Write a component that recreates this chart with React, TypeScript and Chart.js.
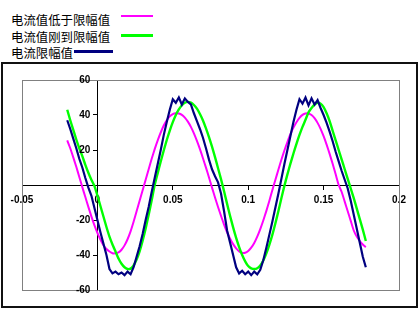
import React, { useEffect, useRef } from 'react';
import { Chart, registerables } from 'chart.js';

Chart.register(...registerables);

const seriesNames = ['电流值低于限幅值', '电流值刚到限幅值', '电流限幅值'];
const seriesColors = ['#ff00ff', '#00ff00', '#000080'];

const xTicks = [-0.05, 0, 0.05, 0.1, 0.15, 0.2];
const yTicks = [-60, -40, -20, 0, 20, 40, 60];

const times = [
  -0.020, -0.018, -0.016, -0.014, -0.012, -0.010, -0.008, -0.006, -0.004, -0.002,
  0.000, 0.002, 0.004, 0.006, 0.008, 0.010, 0.012, 0.014, 0.016, 0.018,
  0.020, 0.022, 0.024, 0.026, 0.028, 0.030, 0.032, 0.034, 0.036, 0.038,
  0.040, 0.042, 0.044, 0.046, 0.048, 0.050, 0.052, 0.054, 0.056, 0.058,
  0.060, 0.062, 0.064, 0.066, 0.068, 0.070, 0.072, 0.074, 0.076, 0.078,
  0.080, 0.082, 0.084, 0.086, 0.088, 0.090, 0.092, 0.094, 0.096, 0.098,
  0.100, 0.102, 0.104, 0.106, 0.108, 0.110, 0.112, 0.114, 0.116, 0.118,
  0.120, 0.122, 0.124, 0.126, 0.128, 0.130, 0.132, 0.134, 0.136, 0.138,
  0.140, 0.142, 0.144, 0.146, 0.148, 0.150, 0.152, 0.154, 0.156, 0.158,
  0.160, 0.162, 0.164, 0.166, 0.168, 0.170, 0.172, 0.174, 0.176, 0.178,
];

const belowLimit = [
  25.5, 21, 15.8, 10.4, 4.6, -1.2, -6.9, -12.5, -17.9, -22.9,
  -27.3, -31.2, -34.4, -36.6, -38, -39, -39, -38.5, -37, -34.5,
  -31, -26.5, -21, -15, -9, -3, 3, 9, 15, 20.5,
  25.5, 30, 34, 37, 39.2, 40.5, 41, 40.9, 40.1, 38.5,
  36.2, 33.2, 29.5, 25.2, 20.5, 15.3, 9.9, 4.3, -1.5, -7.1,
  -12.6, -17.7, -22.6, -27, -30.7, -33.8, -36.2, -37.9, -38.7, -38.7,
  -37.7, -35.8, -33.1, -29.5, -25.2, -20.3, -14.9, -9.1, -3, 2.9,
  8.7, 14.4, 19.7, 24.5, 29, 32.8, 35.9, 38.4, 40.1, 40.9,
  40.9, 40, 38.2, 35.5, 32.1, 27.9, 23.1, 17.8, 12.1, 6.1,
  0, -4, -9.5, -15, -20.5, -26, -29.5, -32, -34, -35.5,
];

const atLimit = [
  43, 37, 31.5, 26, 21, 16.5, 11.5, 7, 3, -0.5,
  -6, -12, -18, -24, -29.5, -34, -38, -42, -45, -47,
  -48, -47.8, -46, -42.6, -37.9, -31.8, -24.8, -17, -8.7, 0,
  6.8, 13.4, 19.7, 25.7, 31.1, 35.9, 40, 43.2, 45.6, 47,
  47.5, 47.1, 45.7, 43.6, 40.6, 36.9, 32.4, 27.4, 21.9, 15.9,
  9.6, 3.2, -3.6, -10.8, -17.7, -24.2, -30.2, -35.5, -40, -43.6,
  -46.3, -47.6, -48, -47.6, -46, -43.1, -39.2, -34.2, -28.5, -22,
  -15, -7.6, -0.5, 6.1, 12.2, 18, 23.5, 28.6, 33.2, 37.3,
  41.5, 44, 46, 47, 46.5, 44.5, 41, 36.5, 31, 25.5,
  20, 14.5, 9, 3.5, -2, -7.5, -13.5, -19.5, -25.5, -32,
];

const limited = [
  37, 32, 26.5, 21, 15, 10, 4, -1.5, -6, -13,
  -20, -27, -33.5, -40, -48, -50.5, -49.5, -51, -50, -51.5,
  -49.5, -51, -47, -41, -35, -28, -20, -12.5, -4, 4,
  12, 20, 28.5, 36, 43, 49, 47, 50, 46, 49.5,
  47.5, 46, 41, 36.5, 32, 27, 21, 14.5, 9, 5,
  1.5, -5, -15, -26, -33, -40, -47, -50.5, -49, -51,
  -49.5, -51.5, -49.5, -51, -48.5, -43, -36, -28.5, -21, -13,
  -5, 3.5, 12, 20, 28, 36, 43, 49, 46.5, 50,
  45.5, 49.5, 46, 48.5, 44, 40, 35.5, 30.5, 25, 19,
  13.5, 8, 3, -2, -9, -17, -25, -33, -41, -47,
];

const tickFont = { family: 'Liberation Sans, Arial, sans-serif', size: 10, weight: 'bold' as const };

const plotBox = {
  id: 'plotBox',
  beforeDatasetsDraw(chart: any) {
    const { ctx, chartArea } = chart;
    ctx.save();
    ctx.strokeStyle = '#808080';
    ctx.lineWidth = 1;
    ctx.strokeRect(
      Math.round(chartArea.left) + 0.5,
      Math.round(chartArea.top) + 0.5,
      Math.round(chartArea.right - chartArea.left),
      Math.round(chartArea.bottom - chartArea.top)
    );
    ctx.restore();
  },
};

const yLabels = {
  id: 'yLabels',
  afterDraw(chart: any) {
    const { ctx } = chart;
    const xs = chart.scales.x;
    const ys = chart.scales.y;
    const ax = xs.getPixelForValue(0);
    ctx.save();
    ctx.fillStyle = '#000';
    ctx.font = 'bold 10px "Liberation Sans", Arial, sans-serif';
    ctx.textAlign = 'right';
    ctx.textBaseline = 'middle';
    yTicks.forEach((v) => {
      if (v === 0) return;
      ctx.fillText(String(v), ax - 7, ys.getPixelForValue(v));
    });
    ctx.restore();
  },
};

export default function App() {
  const ref = useRef<HTMLCanvasElement>(null);

  useEffect(() => {
    const toPts = (ys: number[]) => times.map((x, i) => ({ x, y: ys[i] }));
    const chart = new Chart(ref.current!, {
      type: 'line',
      data: {
        datasets: [
          {
            label: seriesNames[2],
            data: toPts(limited),
            borderColor: seriesColors[2],
            borderWidth: 2.2,
            pointRadius: 0,
            tension: 0,
            order: 0,
          },
          {
            label: seriesNames[1],
            data: toPts(atLimit),
            borderColor: seriesColors[1],
            borderWidth: 2.4,
            pointRadius: 0,
            tension: 0.2,
            order: 1,
          },
          {
            label: seriesNames[0],
            data: toPts(belowLimit),
            borderColor: seriesColors[0],
            borderWidth: 2,
            pointRadius: 0,
            tension: 0.2,
            order: 2,
          },
        ],
      },
      options: {
        animation: false,
        responsive: false,
        events: [],
        layout: { padding: { left: 19, top: 16, right: 17, bottom: 16 } },
        plugins: { legend: { display: false }, tooltip: { enabled: false } },
        scales: {
          x: {
            type: 'linear',
            min: -0.05,
            max: 0.2,
            position: { y: 0 } as any,
            afterBuildTicks: (s: any) => {
              s.ticks = xTicks.map((v) => ({ value: v }));
            },
            grid: { drawOnChartArea: false, drawTicks: true, tickLength: 4, color: '#000' },
            border: { color: '#000', width: 1 },
            ticks: {
              color: '#000',
              font: tickFont,
              padding: 5,
              maxRotation: 0,
              autoSkip: false,
              callback: (v: any) => String(Number(Number(v).toFixed(2))),
            },
          },
          y: {
            type: 'linear',
            min: -60,
            max: 60,
            position: { x: 0 } as any,
            afterBuildTicks: (s: any) => {
              s.ticks = yTicks.map((v) => ({ value: v }));
            },
            grid: { drawOnChartArea: false, drawTicks: true, tickLength: 4, color: '#000' },
            border: { color: '#000', width: 1 },
            ticks: { display: false },
          },
        },
      },
      plugins: [plotBox, yLabels],
    });
    return () => chart.destroy();
  }, []);

  const legendText: React.CSSProperties = {
    position: 'absolute',
    left: 11,
    fontFamily: '"Noto Sans CJK SC", sans-serif',
    fontSize: 12.4,
    lineHeight: '14px',
    color: '#000',
    whiteSpace: 'nowrap',
  };

  return (
    <div style={{ position: 'absolute', left: 0, top: 0, width: 420, height: 311, background: '#fff', overflow: 'hidden' }}>
      <div style={{ ...legendText, top: 13 }}>{seriesNames[0]}</div>
      <div style={{ position: 'absolute', left: 121, top: 15, width: 32, height: 2, background: seriesColors[0] }} />
      <div style={{ ...legendText, top: 30 }}>{seriesNames[1]}</div>
      <div style={{ position: 'absolute', left: 121, top: 34, width: 32, height: 3, background: seriesColors[1] }} />
      <div style={{ ...legendText, top: 46 }}>{seriesNames[2]}</div>
      <div style={{ position: 'absolute', left: 74, top: 50, width: 39, height: 3, background: seriesColors[2] }} />
      <div
        style={{
          position: 'absolute',
          left: 1,
          top: 62,
          width: 417,
          height: 246,
          border: '2px solid #111',
          boxSizing: 'border-box',
        }}
      />
      <canvas ref={ref} width={413} height={242} style={{ position: 'absolute', left: 3, top: 64 }} />
    </div>
  );
}
